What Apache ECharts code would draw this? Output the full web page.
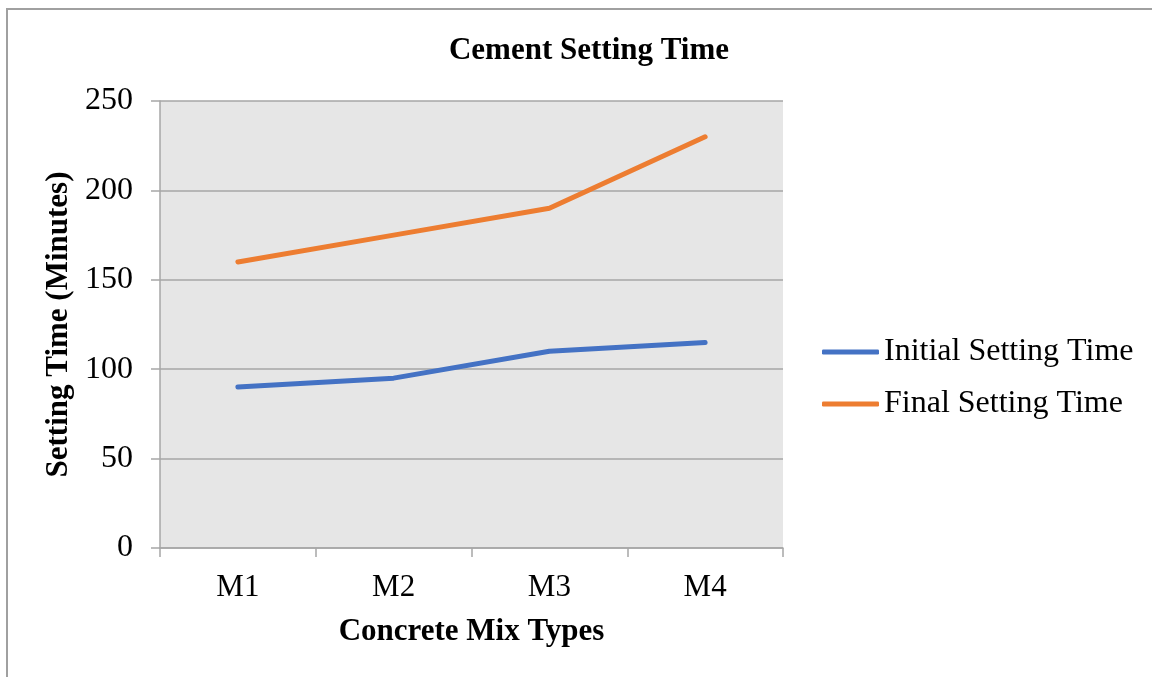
<!DOCTYPE html>
<html>
<head>
<meta charset="utf-8">
<style>
  html, body { margin: 0; padding: 0; background: #fff; }
  .chart { width: 1152px; height: 677px; }
</style>
<script src="https://cdn.jsdelivr.net/npm/echarts@6/dist/echarts.min.js"></script>
</head>
<body>
<div class="chart"></div>
<script>
var mixTypes = ['M1', 'M2', 'M3', 'M4'];
var initialSetting = [90, 95, 110, 115];
var finalSetting = [160, 175, 190, 230];
var yTicks = { min: 0, max: 250, interval: 50 };

(function () {
    var myChart = echarts.init(document.querySelector(".chart"));
    var serif = "'Liberation Serif', 'Times New Roman', serif";
    var gridGray = '#a6a6a6';
    var option = {
        backgroundColor: '#fff',
        animation: false,
        textStyle: { fontFamily: serif, color: '#000' },
        title: {
            text: 'Cement Setting Time',
            left: 584,
            textAlign: 'center',
            top: 30,
            textStyle: { fontFamily: serif, fontWeight: 'bold', fontSize: 31, color: '#000' }
        },
        graphic: [{
            type: 'rect',
            shape: { x: 7, y: 9, width: 1300, height: 800 },
            style: { fill: 'none', stroke: '#a0a0a0', lineWidth: 2 },
            silent: true
        }],
        legend: {
            orient: 'vertical',
            left: 822,
            top: 336,
            padding: 0,
            itemWidth: 57,
            itemHeight: 5,
            itemGap: 20,
            icon: 'roundRect',
            textStyle: { fontFamily: serif, fontSize: 32, color: '#000', lineHeight: 32 },
            data: ['Initial Setting Time', 'Final Setting Time']
        },
        grid: {
            left: 160,
            top: 101,
            width: 623,
            height: 447,
            show: true,
            backgroundColor: '#e6e6e6',
            borderWidth: 0
        },
        xAxis: {
            type: 'category',
            data: mixTypes,
            boundaryGap: true,
            name: 'Concrete Mix Types',
            nameLocation: 'middle',
            nameGap: 68,
            nameTextStyle: { fontFamily: serif, fontWeight: 'bold', fontSize: 31, color: '#000' },
            axisLine: { lineStyle: { color: gridGray, width: 1.5 } },
            axisTick: { show: true, length: 9, lineStyle: { color: gridGray, width: 1.5 } },
            axisLabel: { fontFamily: serif, fontSize: 31, color: '#000', margin: 24 }
        },
        yAxis: {
            type: 'value',
            min: yTicks.min,
            max: yTicks.max,
            interval: yTicks.interval,
            name: 'Setting Time (Minutes)',
            nameLocation: 'middle',
            nameGap: 84,
            nameTextStyle: { fontFamily: serif, fontWeight: 'bold', fontSize: 31, color: '#000' },
            axisLine: { show: true, lineStyle: { color: gridGray, width: 1.5 } },
            axisTick: { show: true, length: 9, lineStyle: { color: gridGray, width: 1.5 } },
            axisLabel: { fontFamily: serif, fontSize: 32, color: '#000', margin: 27, padding: [7, 0, 0, 0] },
            splitLine: { show: true, lineStyle: { color: gridGray, width: 1.5 } }
        },
        series: [
            {
                name: 'Initial Setting Time',
                type: 'line',
                data: initialSetting,
                symbol: 'none',
                color: '#4472c4',
                lineStyle: { width: 5, color: '#4472c4', cap: 'round', join: 'round' }
            },
            {
                name: 'Final Setting Time',
                type: 'line',
                data: finalSetting,
                symbol: 'none',
                color: '#ed7d31',
                lineStyle: { width: 5, color: '#ed7d31', cap: 'round', join: 'round' }
            }
        ]
    };

    myChart.setOption(option);
    window.addEventListener('resize', function () {
        myChart.resize();
    })
})();
</script>
</body>
</html>
